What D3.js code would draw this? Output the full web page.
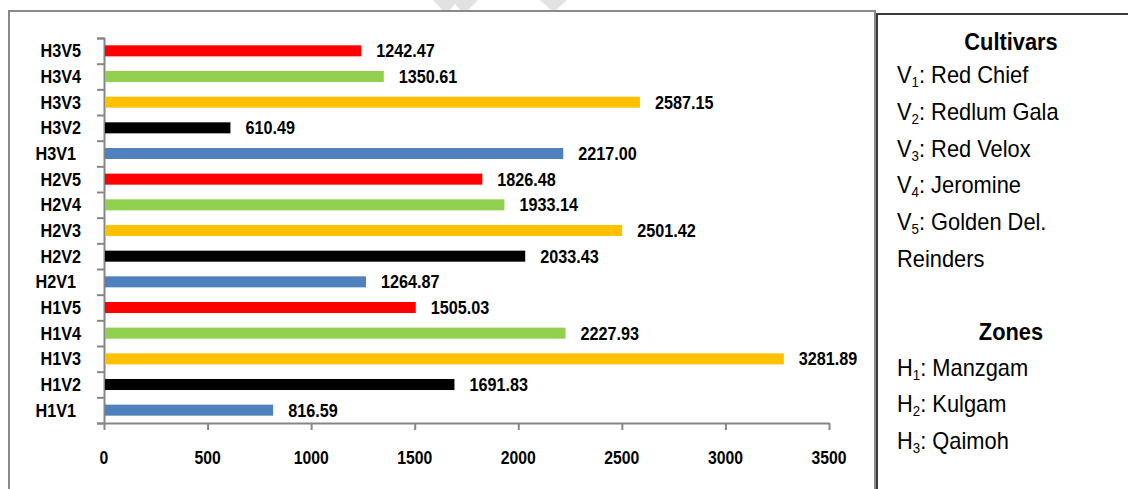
<!DOCTYPE html>
<html>
<head>
<meta charset="utf-8">
<script src="https://cdn.jsdelivr.net/npm/d3@7"></script>
<style>
  body { margin: 0; background: #fff; }
  svg { display: block; }
  text { font-family: "Liberation Sans Narrow", "Arial Narrow", "Liberation Sans", Arial, sans-serif; }
</style>
</head>
<body>
<div id="chart"></div>
<script>
// categories from top to bottom, as they appear in the chart
var categories = ['H3V5', 'H3V4', 'H3V3', 'H3V2', 'H3V1',
                  'H2V5', 'H2V4', 'H2V3', 'H2V2', 'H2V1',
                  'H1V5', 'H1V4', 'H1V3', 'H1V2', 'H1V1'];
var yieldValues = [1242.47, 1350.61, 2587.15, 610.49, 2217.00,
                   1826.48, 1933.14, 2501.42, 2033.43, 1264.87,
                   1505.03, 2227.93, 3281.89, 1691.83, 816.59];
var xTicks = [0, 500, 1000, 1500, 2000, 2500, 3000, 3500];
// one colour per cultivar V1..V5
var cultivarColors = ['#4f81bd', '#000000', '#ffc000', '#92d050', '#ff0000'];
var cultivarNames = ['Red Chief', 'Redlum Gala', 'Red Velox', 'Jeromine', 'Golden Del.'];
var zoneNames = ['Manzgam', 'Kulgam', 'Qaimoh'];

var width = 1128, height = 489;
// no narrow face installed, so squeeze text horizontally
var narrow = 0.9;

var svg = d3.select('#chart')
    .append('svg')
    .attr('width', width)
    .attr('height', height);

// faint watermark marks at top edge
svg.append('path')
    .attr('d', 'M433,0 L478,0 L468,10 L460,10 L455,4 L450,10 L442,10 Z M540,0 L567,0 L556,10 L551,10 Z')
    .attr('fill', '#e2e2e2');

// chart frame
svg.append('rect')
    .attr('x', 9).attr('y', 11)
    .attr('width', 866).attr('height', 500)
    .attr('fill', 'none')
    .attr('stroke', '#8a8a8a')
    .attr('stroke-width', 2);

// legend box
svg.append('rect')
    .attr('x', 877).attr('y', 14)
    .attr('width', 300).attr('height', 500)
    .attr('fill', '#fff')
    .attr('stroke', '#3a3a3a')
    .attr('stroke-width', 2);

var x = d3.scaleLinear().domain([0, 3500]).range([104, 829]);
var y = d3.scaleBand()
    .domain(categories)
    .range([38, 423])
    .paddingInner(0.57)
    .paddingOuter(0.285);
// boundaries between the category bands, for the y tick marks
var yEdge = d3.scaleLinear().domain([0, categories.length]).range([38, 423]);

// y axis: line with tick marks between categories
var yAxis = svg.append('g')
    .attr('transform', 'translate(104,0)')
    .call(d3.axisLeft(yEdge).tickValues(d3.range(categories.length + 1)).tickSize(7).tickFormat(''));
yAxis.select('.domain').attr('stroke', '#868686').attr('stroke-width', 2);
yAxis.selectAll('.tick line').attr('stroke', '#868686').attr('stroke-width', 2);

// x axis (labels drawn separately so they can be squeezed)
var xAxis = svg.append('g')
    .attr('transform', 'translate(0,423)')
    .call(d3.axisBottom(x).tickValues(xTicks).tickSize(7).tickFormat('').tickSizeOuter(0));
xAxis.select('.domain').attr('stroke', '#868686').attr('stroke-width', 2);
xAxis.selectAll('.tick line').attr('stroke', '#868686').attr('stroke-width', 2);

svg.append('g')
    .attr('transform', 'scale(' + narrow + ',1)')
    .selectAll('text')
    .data(xTicks)
    .enter()
    .append('text')
    .attr('x', function (d) { return x(d) / narrow; })
    .attr('y', 464)
    .attr('text-anchor', 'middle')
    .attr('font-size', 17.5)
    .attr('font-weight', 'bold')
    .text(function (d) { return d; });

// category labels
svg.append('g')
    .attr('transform', 'scale(' + narrow + ',1)')
    .selectAll('text')
    .data(categories)
    .enter()
    .append('text')
    .attr('x', function (d) { return (d.slice(-1) === '1' ? 76 : 81) / narrow; })
    .attr('y', function (d) { return y(d) + y.bandwidth() / 2; })
    .attr('dy', '0.36em')
    .attr('text-anchor', 'end')
    .attr('font-size', 18)
    .attr('font-weight', 'bold')
    .text(function (d) { return d; });

// bars
svg.append('g')
    .selectAll('rect')
    .data(yieldValues)
    .enter()
    .append('rect')
    .attr('x', x(0) + 1)
    .attr('y', function (d, i) { return y(categories[i]); })
    .attr('width', function (d) { return x(d) - x(0) - 1; })
    .attr('height', y.bandwidth())
    .attr('fill', function (d, i) { return cultivarColors[+categories[i].slice(-1) - 1]; });

// value labels
svg.append('g')
    .attr('transform', 'scale(' + narrow + ',1)')
    .selectAll('text')
    .data(yieldValues)
    .enter()
    .append('text')
    .attr('x', function (d) { return (x(d) + 15) / narrow; })
    .attr('y', function (d, i) { return y(categories[i]) + y.bandwidth() / 2; })
    .attr('dy', '0.36em')
    .attr('font-size', 18)
    .attr('font-weight', 'bold')
    .text(function (d) { return d.toFixed(2); });

// legend
var lk = 0.95;
var legend = svg.append('g')
    .attr('transform', 'scale(' + lk + ',1)')
    .attr('font-size', 23)
    .attr('fill', '#000');
legend.append('text')
    .attr('x', 1011 / lk).attr('y', 50)
    .attr('text-anchor', 'middle')
    .attr('font-weight', 'bold')
    .text('Cultivars');

function subLine(letter, idx, name, yPos) {
    var t = legend.append('text').attr('x', 897 / lk).attr('y', yPos);
    t.append('tspan').text(letter);
    t.append('tspan').attr('font-size', 14).attr('dy', 4).text(idx);
    t.append('tspan').attr('dy', -4).text(': ' + name);
}

cultivarNames.forEach(function (n, i) {
    subLine('V', i + 1, n, 83 + i * 36.8);
});
legend.append('text').attr('x', 897 / lk).attr('y', 267).text('Reinders');

legend.append('text')
    .attr('x', 1011 / lk).attr('y', 340)
    .attr('text-anchor', 'middle')
    .attr('font-weight', 'bold')
    .text('Zones');
zoneNames.forEach(function (n, i) {
    subLine('H', i + 1, n, 376 + i * 36.5);
});
</script>
</body>
</html>
